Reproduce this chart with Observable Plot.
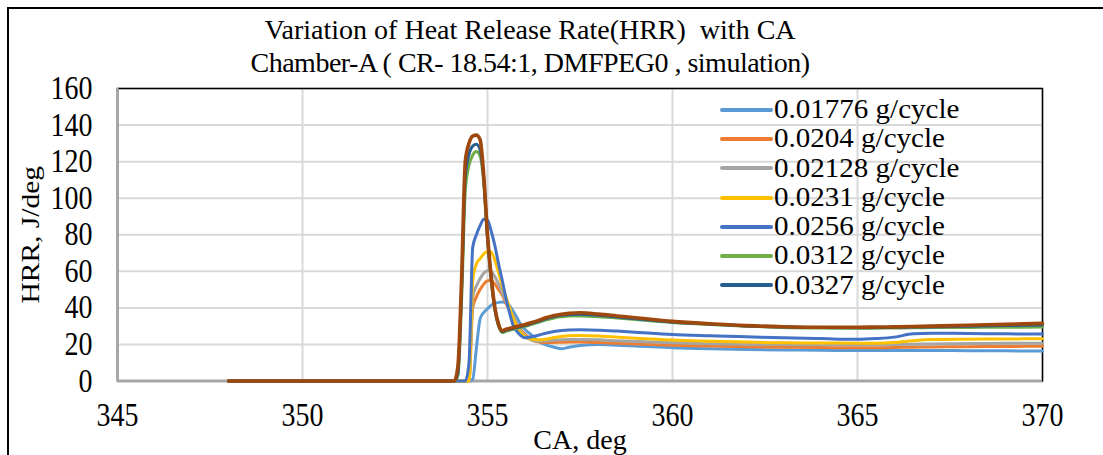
<!DOCTYPE html>
<html>
<head>
<meta charset="utf-8">
<script src="https://cdn.jsdelivr.net/npm/d3@7"></script>
<script src="https://cdn.jsdelivr.net/npm/@observablehq/plot@0.6"></script>
<style>
  html, body { margin: 0; padding: 0; background: #fff; width: 1103px; height: 455px; overflow: hidden; }
  #border { position: absolute; left: 7px; top: 7px; width: 1300px; height: 700px; border: 2px solid #000; box-sizing: border-box; }
  #chart svg { position: absolute; left: 0; top: 0; }
  .title { position: absolute; left: 0; width: 1060px; text-align: center; font-family: "Liberation Serif", "Times New Roman", serif; font-size: 28px; line-height: 33px; height: 33px; white-space: pre; color: #000; }
  #legend { position: absolute; left: 720px; top: 95px; font-family: "Liberation Serif", "Times New Roman", serif; font-size: 26.4px; color: #000; }
  .row { height: 29.3px; display: flex; align-items: center; white-space: pre; }
  .sw { display: block; width: 53px; height: 4px; border-radius: 2px; margin-right: 1px; flex: none; }
  .lt { display: inline-block; line-height: 29.3px; transform: scaleX(1.1); transform-origin: left center; }
</style>
</head>
<body>
<div id="border"></div>
<div id="chart"></div>
<div class="title" id="t1" style="top:13px"></div>
<div class="title" id="t2" style="top:46px; letter-spacing:-0.5px"></div>
<div id="legend"></div>
<script>
const titleLines = ["Variation of Heat Release Rate(HRR)  with CA", "Chamber-A ( CR- 18.54:1, DMFPEG0 , simulation)"];
const xLabel = "CA, deg";
const yLabel = "HRR, J/deg";
const xTicks = [345, 350, 355, 360, 365, 370];
const yTicks = [0, 20, 40, 60, 80, 100, 120, 140, 160];

const seriesNames = ["0.01776 g/cycle", "0.0204 g/cycle", "0.02128 g/cycle", "0.0231 g/cycle", "0.0256 g/cycle", "0.0312 g/cycle", "0.0327 g/cycle", "(unlabelled)"];
const seriesColors = ["#5B9BD5", "#ED7D31", "#A5A5A5", "#FFC000", "#4472C4", "#70AD47", "#255E91", "#9E480E"];

const ca = [348, 354.1, 354.2, 354.3, 354.4, 354.5, 354.6, 354.7, 354.8, 354.9, 355.0, 355.1, 355.2, 355.3, 355.4, 355.5, 355.6, 355.7, 355.8, 355.9, 356.0, 356.2, 356.4, 356.6, 356.8, 357.0, 357.2, 357.5, 358, 358.5, 359, 360, 361, 362, 363, 364, 365, 365.5, 366, 366.5, 367, 368, 369, 370];

const hrr1 = [0, 0, 0, 0, 0, 0, 1, 18, 34, 37.5, 39.5, 41.5, 42.5, 43, 43.2, 42.8, 41, 38, 34.5, 31, 28.5, 25, 21.5, 19.6, 18.5, 17.6, 18.5, 19.4, 19.9, 19.6, 19.2, 18.2, 17.6, 17.2, 17, 16.8, 16.7, 16.7, 16.7, 16.7, 16.7, 16.6, 16.5, 16.4];
const hrr2 = [0, 0, 0, 0, 0, 0, 40, 46, 50, 53, 54.8, 55, 53, 50, 47, 42.5, 38.5, 35, 31, 28, 25.8, 22.5, 21.3, 21, 21.1, 21.2, 21.3, 21.3, 21, 20.6, 20.2, 19.6, 19.1, 18.8, 18.5, 18.3, 18.2, 18.2, 18.3, 18.5, 18.6, 18.8, 18.9, 19];
const hrr3 = [0, 0, 0, 0, 0, 0, 46, 52, 56, 59, 60.3, 60, 57, 53, 48.5, 43.5, 39, 34.5, 30.5, 27.3, 25, 22.3, 21.8, 22, 22.4, 22.6, 22.7, 22.7, 22.5, 22, 21.6, 20.9, 20.4, 20.1, 19.9, 19.8, 19.8, 19.8, 19.9, 20.1, 20.3, 20.5, 20.6, 20.7];
const hrr4 = [0, 0, 0, 0, 0, 0, 55, 64, 67, 69.5, 71, 70.5, 66, 59, 52, 46, 40, 34, 29.4, 26.5, 24.3, 22.8, 22.5, 23, 23.8, 24.4, 24.8, 24.9, 24.6, 24, 23.4, 22.4, 21.8, 21.3, 20.9, 20.8, 20.7, 20.7, 21, 22, 22.7, 22.9, 23, 23.1];
const hrr5 = [0, 0, 0, 0, 0, 10, 73, 80, 85, 88.5, 88, 82, 74, 64, 55, 45, 37, 30, 27, 24.8, 23.6, 24.2, 25.2, 26.3, 27.1, 27.6, 27.9, 28, 27.8, 27.3, 26.7, 25.5, 24.8, 24.2, 23.6, 23.2, 22.8, 23.2, 24, 25.8, 26.1, 26, 25.8, 25.7];
const hrr6 = [0, 0, 3, 44, 104, 118, 123.5, 125.5, 123, 108, 78, 55, 39, 30, 26.5, 27.2, 27.8, 28.3, 28.8, 29.3, 29.8, 31, 32.3, 33.5, 34.5, 35.1, 35.5, 35.6, 35.2, 34.4, 33.6, 32, 30.9, 30, 29.3, 29, 28.9, 28.9, 29, 29.1, 29.2, 29.3, 29.4, 29.5];
const hrr7 = [0, 0, 4, 50, 112, 124, 128.5, 129.5, 126.5, 110, 79, 56, 39.5, 30.5, 27, 27.8, 28.3, 28.8, 29.3, 29.8, 30.3, 31.5, 32.8, 34.2, 35.2, 35.9, 36.3, 36.5, 35.9, 35, 34.1, 32.2, 31.1, 30.1, 29.5, 29.2, 29.1, 29.2, 29.3, 29.5, 29.6, 30, 30.3, 30.6];
const hrr8 = [0, 0, 8, 56, 120, 130, 134, 134.5, 132, 112, 80, 57, 40, 31, 27.5, 28.3, 28.8, 29.3, 29.8, 30.3, 30.8, 32, 33.3, 34.7, 35.8, 36.5, 37, 37.3, 36.6, 35.6, 34.6, 32.6, 31.3, 30.3, 29.7, 29.4, 29.4, 29.5, 29.6, 29.8, 30, 30.5, 31, 31.5];

const allSeries = [hrr1, hrr2, hrr3, hrr4, hrr5, hrr6, hrr7, hrr8];
const legendCount = 7;

document.getElementById("t1").textContent = titleLines[0];
document.getElementById("t2").textContent = titleLines[1];

const lineMarks = allSeries.map((vals, i) =>
  Plot.lineY(vals, {x: ca, stroke: seriesColors[i], strokeWidth: i === 7 ? 3.6 : 3, curve: "monotone-x", strokeLinejoin: "round", strokeLinecap: "round"})
);

const svg = Plot.plot({
  width: 1103,
  height: 455,
  marginLeft: 117,
  marginRight: 61,
  marginTop: 88,
  marginBottom: 74.5,
  style: {fontFamily: "'Liberation Serif', 'Times New Roman', serif", fontSize: "28px", background: "transparent", color: "#000"},
  x: {domain: [345, 370]},
  y: {domain: [0, 160]},
  marks: [
    Plot.gridX(xTicks, {stroke: "#d9d9d9", strokeOpacity: 1, strokeWidth: 2}),
    Plot.gridY(yTicks, {stroke: "#d9d9d9", strokeOpacity: 1, strokeWidth: 2}),
    Plot.frame({stroke: "#000", strokeWidth: 1.5}),
    Plot.ruleY([0], {stroke: "#a6a6a6", strokeWidth: 3}),
    Plot.ruleX([345], {stroke: "#a6a6a6", strokeWidth: 2.5}),
    ...lineMarks,
    Plot.axisX(xTicks, {tickSize: 0, tickPadding: 22, fontSize: 28, label: xLabel, labelAnchor: "center", labelArrow: "none", labelOffset: 68}),
    Plot.axisY(yTicks, {tickSize: 0, tickPadding: 25, fontSize: 28, label: yLabel, labelAnchor: "center", labelArrow: "none", labelOffset: 96})
  ]
});
document.getElementById("chart").appendChild(svg);

// vertical stretch of axis texts, as in the reference rendering
function stretch(sel, sx, sy) {
  svg.querySelectorAll(sel).forEach(t => {
    const tr = t.getAttribute("transform");
    const x = t.getAttribute("x"), y = t.getAttribute("y");
    if (tr) {
      t.setAttribute("transform", tr + ` scale(${sx},${sy})`);
    } else {
      const xx = +(x || 0), yy = +(y || 0);
      t.setAttribute("transform", `translate(${xx},${yy}) scale(${sx},${sy}) translate(${-xx},${-yy})`);
    }
  });
}
stretch('g[aria-label="y-axis tick label"] text', 1, 1.18);
stretch('g[aria-label="x-axis tick label"] text', 1, 1.18);
svg.querySelectorAll('g[aria-label="y-axis label"] text').forEach(t => t.setAttribute("font-size", 25));
stretch('g[aria-label="y-axis label"] text', 1.18, 1);

const legend = document.getElementById("legend");
for (let i = 0; i < legendCount; i++) {
  const row = document.createElement("div");
  row.className = "row";
  const sw = document.createElement("span");
  sw.className = "sw";
  sw.style.background = seriesColors[i];
  const tx = document.createElement("span");
  tx.className = "lt";
  tx.textContent = seriesNames[i];
  row.appendChild(sw);
  row.appendChild(tx);
  legend.appendChild(row);
}
</script>
</body>
</html>
